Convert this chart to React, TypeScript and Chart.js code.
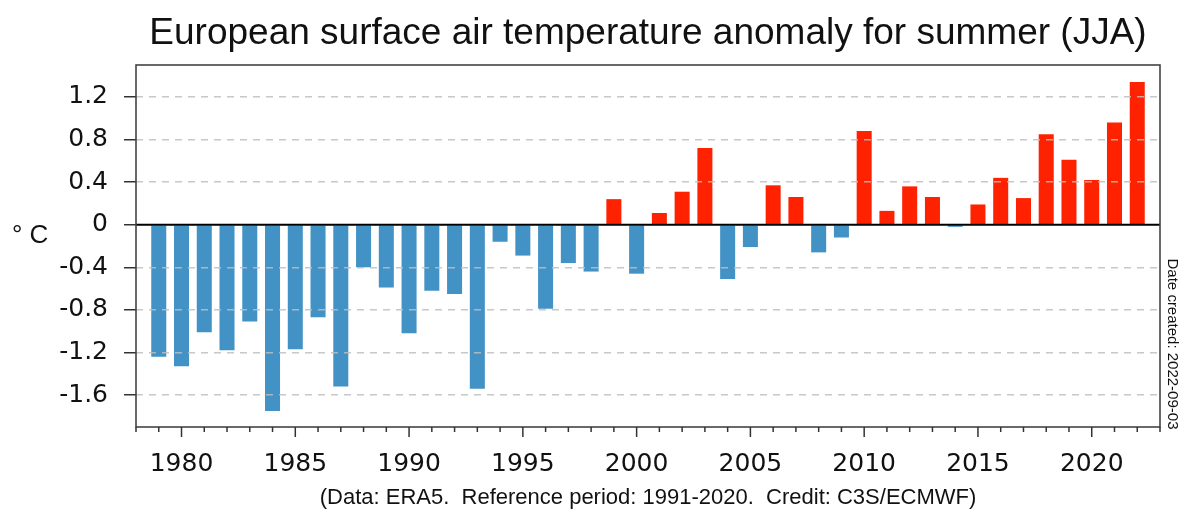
import React, { useEffect, useRef } from "react";
import { Chart, registerables } from "chart.js";

Chart.register(...registerables);

const years: number[] = [
  1979, 1980, 1981, 1982, 1983, 1984, 1985, 1986, 1987, 1988, 1989,
  1990, 1991, 1992, 1993, 1994, 1995, 1996, 1997, 1998, 1999,
  2000, 2001, 2002, 2003, 2004, 2005, 2006, 2007, 2008, 2009,
  2010, 2011, 2012, 2013, 2014, 2015, 2016, 2017, 2018, 2019,
  2020, 2021, 2022,
];

const anomalies: number[] = [
  -1.24, -1.33, -1.01, -1.18, -0.91, -1.75, -1.17, -0.87, -1.52, -0.40, -0.59,
  -1.02, -0.62, -0.65, -1.54, -0.16, -0.29, -0.79, -0.36, -0.44, 0.24,
  -0.46, 0.11, 0.31, 0.72, -0.51, -0.21, 0.37, 0.26, -0.26, -0.12,
  0.88, 0.13, 0.36, 0.26, -0.02, 0.19, 0.44, 0.25, 0.85, 0.61,
  0.42, 0.96, 1.34,
];

const yTickValues: number[] = [-1.6, -1.2, -0.8, -0.4, 0, 0.4, 0.8, 1.2];
const xLabelYears: number[] = [1980, 1985, 1990, 1995, 2000, 2005, 2010, 2015, 2020];

const titleText = "European surface air temperature anomaly for summer (JJA)";
const footerText = "(Data: ERA5.  Reference period: 1991-2020.  Credit: C3S/ECMWF)";
const dateText = "Date created: 2022-09-03";
const unitText = "\u00B0 C";

const WARM = "#ff2200";
const COOL = "#4292c6";
const SANS = '"Liberation Sans", Arial, Helvetica, sans-serif';
const DEJAVU = '"DejaVu Sans", sans-serif';

const decorPlugin = {
  id: "decor",
  afterDraw(chart: any) {
    const { ctx, chartArea, scales } = chart;
    const { left, right, top, bottom } = chartArea;
    const xs = scales.x;
    const ys = scales.y;
    ctx.save();

    // zero line
    const y0 = ys.getPixelForValue(0);
    ctx.strokeStyle = "#000";
    ctx.lineWidth = 2;
    ctx.beginPath();
    ctx.moveTo(left, y0);
    ctx.lineTo(right, y0);
    ctx.stroke();

    // frame
    ctx.strokeStyle = "#444";
    ctx.lineWidth = 1.6;
    ctx.strokeRect(left, top, right - left, bottom - top);

    // x tick marks
    ctx.strokeStyle = "#333";
    ctx.lineWidth = 1.5;
    const minYear = xs.min;
    const maxYear = xs.max;
    for (let yr = minYear; yr <= maxYear; yr++) {
      const x = xs.getPixelForValue(yr);
      const len = xLabelYears.includes(yr) ? 10 : 5;
      ctx.beginPath();
      ctx.moveTo(x, bottom);
      ctx.lineTo(x, bottom + len);
      ctx.stroke();
    }

    // title
    ctx.fillStyle = "#111";
    ctx.font = `37px ${SANS}`;
    ctx.textAlign = "center";
    ctx.textBaseline = "alphabetic";
    ctx.fillText(titleText, (left + right) / 2, 44);

    // footer
    ctx.font = `22px ${SANS}`;
    ctx.fillText(footerText, (left + right) / 2, 504);

    // unit label
    ctx.font = `26px ${SANS}`;
    ctx.textAlign = "left";
    ctx.textBaseline = "middle";
    ctx.fillText(unitText, 12, 236);

    // date created
    ctx.translate(1172, 344);
    ctx.rotate(Math.PI / 2);
    ctx.font = `15px ${SANS}`;
    ctx.textAlign = "center";
    ctx.textBaseline = "middle";
    ctx.fillText(dateText, 0, 0);

    ctx.restore();
  },
};

export default function App() {
  const canvasRef = useRef<HTMLCanvasElement | null>(null);

  useEffect(() => {
    const canvas = canvasRef.current;
    if (!canvas) return;
    const points = years.map((yr, i) => ({ x: yr, y: anomalies[i] }));
    const colors = anomalies.map((v) => (v >= 0 ? WARM : COOL));

    const chart = new Chart(canvas, {
      type: "bar",
      data: {
        datasets: [
          {
            data: points as any,
            backgroundColor: colors,
            borderWidth: 0,
            barPercentage: 0.66,
            categoryPercentage: 1,
          },
        ],
      },
      options: {
        animation: false,
        responsive: false,
        events: [],
        layout: { padding: { left: 0, right: 22, top: 65, bottom: 0 } },
        plugins: {
          legend: { display: false },
          title: { display: false },
          tooltip: { enabled: false },
        },
        scales: {
          x: {
            type: "linear",
            min: 1978,
            max: 2023,
            offset: false,
            grid: { display: true, drawOnChartArea: false, drawTicks: false },
            border: { display: false },
            afterFit(scale: any) {
              scale.height = 83;
            },
            ticks: {
              stepSize: 1,
              autoSkip: false,
              maxRotation: 0,
              minRotation: 0,
              padding: 22,
              color: "#111",
              font: { family: DEJAVU, size: 25 },
              callback: (v: any) => (xLabelYears.includes(Number(v)) ? String(v) : ""),
            },
          },
          y: {
            type: "linear",
            min: -1.9,
            max: 1.5,
            afterBuildTicks(scale: any) {
              scale.ticks = yTickValues.map((v) => ({ value: v }));
            },
            afterFit(scale: any) {
              scale.width = 136;
            },
            grid: {
              z: 1,
              color: (c: any) =>
                c.tick && c.tick.value === 0 ? "rgba(0,0,0,0)" : "rgba(190,190,190,0.85)",
              lineWidth: 1.5,
              tickLength: 12,
              tickColor: "#333",
              tickWidth: 1.5,
            },
            border: { display: false, dash: [7, 6] },
            ticks: {
              padding: 16,
              color: "#111",
              font: { family: DEJAVU, size: 25 },
              callback: (v: any) => (Number(v) === 0 ? "0" : Number(v).toFixed(1)),
            },
          },
        },
      },
      plugins: [decorPlugin],
    });

    return () => chart.destroy();
  }, []);

  return (
    <div style={{ position: "absolute", left: 0, top: 0, width: 1182, height: 510, background: "#fff" }}>
      <canvas ref={canvasRef} width={1182} height={510} style={{ display: "block", width: 1182, height: 510 }} />
    </div>
  );
}
